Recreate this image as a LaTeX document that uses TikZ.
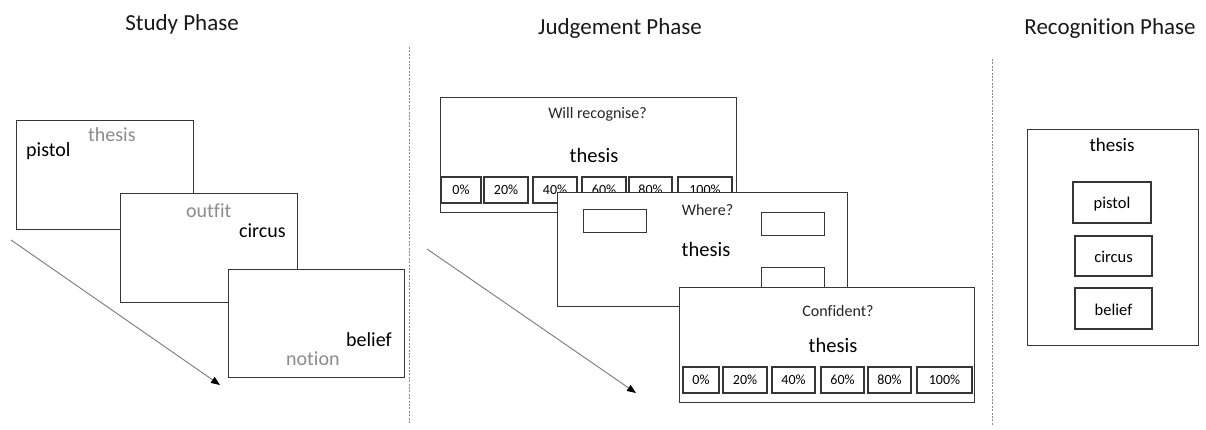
\documentclass[tikz,border=0pt]{standalone}
\usepackage{fontspec}
\setmainfont{Carlito}[Ligatures=NoCommon]
\usetikzlibrary{arrows.meta}
\definecolor{edge}{HTML}{363636}
\definecolor{faded}{HTML}{8C8C8C}
\definecolor{sepline}{HTML}{8A8A8A}
\definecolor{pointer}{HTML}{7A7A7A}
\newcommand\setfs[1]{\fontsize{#1}{#1}\selectfont}

\begin{document}
\begin{tikzpicture}[x=1pt,y=-1pt,
  screen/.style={draw=edge, line width=1.4pt, fill=white, inner sep=0pt, anchor=north west},
  slot/.style={draw=edge, line width=1.2pt, fill=white, inner sep=0pt, anchor=north west},
  btn/.style={draw=edge, line width=1.2pt, fill=white, inner sep=0pt, font=\setfs{14}, text height=8.5pt, text depth=0pt},
  choice/.style={draw=edge, line width=1.2pt, fill=white, inner sep=0pt, font=\setfs{16.5}, text height=13pt, text depth=0pt},
  title/.style={font=\setfs{23}, anchor=base, inner sep=0pt, text=black!90},
  word/.style={font=\setfs{20}, anchor=base west, inner sep=0pt, text=black},
  cue/.style={font=\setfs{16}, anchor=base, inner sep=0pt, text=black!85},
  probe/.style={font=\setfs{20.5}, anchor=base, inner sep=0pt, text=black},
  divider/.style={draw=sepline, line width=0.8pt, dash pattern=on 2pt off 1.4pt},
  timeline/.style={draw=pointer, line width=0.9pt, -{Triangle[length=9pt, width=7pt, color=black]}}
]
\useasboundingbox (0,0) rectangle (1206,430);

% ---------- phase titles ----------
\node[title] (tstudy) at (182,31) {Study Phase};
\node[title] (tjudge) at (620,35) {Judgement Phase};
\node[title] (trecog) at (1110,35) {Recognition Phase};

% ---------- phase dividers ----------
\coordinate (d1top) at (409,47);
\coordinate (d1bot) at (409,423);
\coordinate (d2top) at (992,59);
\coordinate (d2bot) at (992,425);
\draw[divider] (d1top) -- (d1bot);
\draw[divider] (d2top) -- (d2bot);

% ---------- study phase ----------
\node[screen, minimum width=177pt, minimum height=109pt] (st1) at (16,120) {};
\node[word, text=faded] (st1a) at (88,142) {thesis};
\node[word] (st1b) at (26,157) {pistol};

\node[screen, minimum width=177pt, minimum height=109pt] (st2) at (120,193) {};
\node[word, text=faded] (st2a) at (186,218) {outfit};
\node[word] (st2b) at (239,237) {circus};

\node[screen, minimum width=176pt, minimum height=108pt] (st3) at (228,269) {};
\node[word] (st3a) at (346,346) {belief};
\node[word, text=faded] (st3b) at (286,365) {notion};

\coordinate (sa) at (11,240);
\coordinate (sb) at (220,385);
\draw[timeline] (sa) -- (sb);

% ---------- judgement phase ----------
% first screen: prediction of later recognition
\node[screen, minimum width=296pt, minimum height=115pt] (ja) at (440,97) {};
\node[cue] (jaq) at (597.5,119) {Will recognise?};
\node[probe] (jaw) at (594,162.5) {thesis};
\foreach \l/\r/\t [count=\i] in {441/481/0\%, 484/528/20\%, 533/577/40\%, 582/626/60\%, 629/672/80\%, 678/732/100\%}
  \node[btn, minimum width={\r-\l}, minimum height=26pt] (ja\i) at ({(\l+\r)/2},190) {\t};

% second screen: source location
\node[screen, minimum width=290pt, minimum height=114pt] (jb) at (557,192) {};
\node[slot, minimum width=63pt, minimum height=23pt] (jbl) at (583,209) {};
\node[slot, minimum width=63pt, minimum height=23pt] (jbr) at (761,212) {};
\node[slot, minimum width=63pt, minimum height=30pt] (jbd) at (761,267) {};
\node[cue] (jbq) at (707.5,215) {Where?};
\node[probe] (jbw) at (706,256) {thesis};

% third screen: confidence rating
\node[screen, minimum width=295pt, minimum height=115pt] (jc) at (679,287) {};
\node[cue] (jcq) at (838,316) {Confident?};
\node[probe] (jcw) at (833,352.5) {thesis};
\foreach \l/\r/\t [count=\i] in {683/719/0\%, 723/767/20\%, 772/815/40\%, 821/864/60\%, 868/911/80\%, 917/972/100\%}
  \node[btn, minimum width={\r-\l}, minimum height=26pt] (jc\i) at ({(\l+\r)/2},380) {\t};

\coordinate (ja0) at (427,249);
\coordinate (jb0) at (636,393);
\draw[timeline] (ja0) -- (jb0);

% ---------- recognition phase ----------
\node[screen, minimum width=171pt, minimum height=216pt] (rc) at (1027,129) {};
\node[font=\setfs{19}, anchor=base, inner sep=0pt, text=black] (rcw) at (1112,151.5) {thesis};
\node[choice, minimum width=78pt, minimum height=41pt] (rc1) at (1112,202.5) {pistol};
\node[choice, minimum width=77pt, minimum height=40pt] (rc2) at (1113.5,256) {circus};
\node[choice, minimum width=77pt, minimum height=41pt] (rc3) at (1113.5,308.5) {belief};
\end{tikzpicture}
\end{document}
